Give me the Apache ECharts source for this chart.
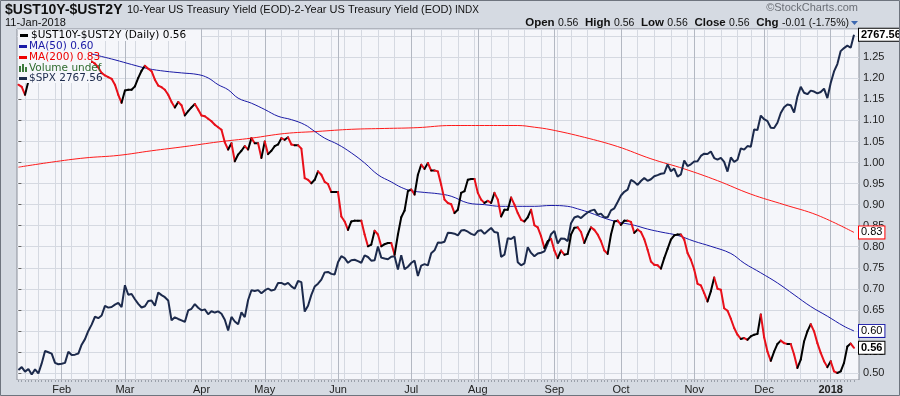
<!DOCTYPE html>
<html><head><meta charset="utf-8">
<script src="https://cdn.jsdelivr.net/npm/echarts@6/dist/echarts.min.js"></script>
<style>html,body{margin:0;padding:0;background:#d5dae2;}#chart{width:900px;height:396px;}</style>
</head><body><div id="chart"></div>
<script>
// ---- calendar (NYSE trading days shown on the chart) ----
const holidays = ['2017-01-16','2017-02-20','2017-04-14','2017-05-29','2017-07-04','2017-09-04','2017-11-23','2017-12-25','2018-01-01'];
const firstDay = '2017-01-12', lastDay = '2018-01-11';
function tradingDays(start, end){
  const out=[]; let t=Date.parse(start+'T00:00:00Z'); const e=Date.parse(end+'T00:00:00Z');
  while(t<=e){const d=new Date(t);const wd=d.getUTCDay();const s=d.toISOString().slice(0,10);
    if(wd!==0&&wd!==6&&holidays.indexOf(s)<0) out.push(s); t+=86400000;}
  return out;
}
const dates = tradingDays(firstDay, lastDay);

// ---- $UST10Y-$UST2Y daily close ----
const spread = [
 1.185,1.180,1.161,1.193,1.21,1.22,1.23,1.21,1.23,1.24,
 1.25,1.23,1.22,1.24,1.22,1.25,1.24,1.23,1.24,1.25,
 1.24,1.23,1.240,1.235,1.226,1.213,1.207,1.203,1.199,1.185,
 1.161,1.142,1.171,1.173,1.173,1.181,1.201,1.218,1.230,1.223,
 1.217,1.197,1.183,1.179,1.173,1.161,1.144,1.131,1.144,1.136,
 1.112,1.122,1.131,1.139,1.126,1.112,1.110,1.104,1.098,1.090,
 1.084,1.078,1.048,1.031,1.046,1.003,1.019,1.028,1.039,1.031,
 1.058,1.046,1.046,1.011,1.050,1.020,1.028,1.039,1.043,1.058,
 1.054,1.060,1.043,1.041,1.041,1.033,0.963,0.959,0.951,0.959,
 0.979,0.971,0.954,0.949,0.930,0.930,0.930,0.872,0.860,0.840,
 0.860,0.862,0.862,0.862,0.829,0.801,0.805,0.838,0.829,0.801,
 0.806,0.809,0.809,0.781,0.829,0.870,0.886,0.932,0.936,0.924,
 0.971,0.995,0.985,0.999,0.981,0.981,0.979,0.947,0.912,0.904,
 0.901,0.880,0.888,0.928,0.932,0.959,0.961,0.961,0.928,0.912,
 0.904,0.909,0.904,0.928,0.912,0.872,0.888,0.888,0.917,0.900,
 0.880,0.864,0.860,0.870,0.888,0.851,0.846,0.825,0.797,0.813,
 0.819,0.791,0.773,0.791,0.781,0.783,0.829,0.845,0.846,0.835,
 0.809,0.829,0.846,0.840,0.829,0.813,0.791,0.783,0.829,0.860,
 0.862,0.852,0.862,0.862,0.859,0.833,0.841,0.835,0.818,0.793,
 0.765,0.757,0.756,0.748,0.773,0.795,0.817,0.827,0.829,0.829,
 0.817,0.785,0.769,0.746,0.712,0.708,0.690,0.670,0.694,0.727,
 0.700,0.698,0.654,0.648,0.629,0.607,0.591,0.581,0.583,0.579,
 0.587,0.591,0.593,0.639,0.585,0.551,0.529,0.551,0.569,0.577,
 0.571,0.569,0.569,0.544,0.512,0.532,0.575,0.599,0.616,0.599,
 0.571,0.548,0.528,0.514,0.528,0.504,0.500,0.504,0.524,0.563,
 0.570,0.560];

// ---- $SPX overlay ----
const spx = [
 2270.4,2274.6,2267.9,2271.9,2263.7,2271.3,2265.2,2280.1,2298.4,2296.7,
 2294.7,2280.9,2278.9,2279.6,2280.9,2297.4,2292.6,2293.1,2294.7,2307.9,
 2316.1,2328.3,2337.6,2349.3,2347.2,2351.2,2365.4,2362.8,2363.8,2367.3,
 2369.8,2363.6,2396.0,2381.9,2383.1,2375.3,2368.4,2363.0,2364.9,2372.6,
 2373.5,2365.5,2385.3,2381.4,2378.3,2373.5,2344.0,2348.5,2346.0,2344.0,
 2341.6,2358.6,2361.1,2368.1,2362.7,2358.8,2360.2,2353.0,2357.5,2355.5,
 2357.2,2353.8,2344.9,2329.0,2349.0,2342.2,2338.2,2355.8,2348.7,2374.2,
 2388.6,2387.5,2388.8,2384.2,2388.3,2391.2,2388.1,2389.5,2399.3,2399.4,
 2396.9,2399.6,2394.4,2390.9,2402.3,2400.7,2357.0,2365.7,2381.7,2394.0,
 2398.4,2404.4,2415.1,2415.8,2412.9,2411.8,2430.1,2439.1,2436.1,2429.3,
 2433.1,2433.8,2431.8,2429.4,2440.4,2437.9,2432.5,2433.2,2453.5,2437.0,
 2435.6,2434.5,2438.3,2439.1,2419.4,2440.7,2419.7,2423.4,2429.0,2432.5,
 2409.8,2425.2,2427.4,2425.5,2443.3,2447.8,2459.3,2459.1,2460.6,2473.8,
 2473.5,2472.5,2469.9,2477.1,2477.8,2475.4,2472.1,2470.3,2476.4,2477.6,
 2472.2,2476.8,2480.9,2474.9,2474.0,2438.2,2441.3,2465.8,2464.6,2468.1,
 2430.0,2425.6,2428.4,2452.5,2444.0,2439.0,2443.1,2444.2,2446.3,2457.6,
 2471.7,2476.6,2457.9,2465.5,2465.1,2461.4,2488.1,2496.5,2498.4,2495.6,
 2500.2,2503.9,2506.7,2508.2,2500.6,2502.2,2496.7,2496.8,2507.0,2510.1,
 2519.4,2529.1,2534.6,2537.7,2552.1,2549.3,2544.7,2550.6,2555.2,2550.9,
 2553.2,2557.6,2559.4,2561.3,2562.1,2575.2,2565.0,2569.1,2557.2,2560.4,
 2581.1,2572.8,2575.3,2579.4,2579.9,2587.8,2591.1,2590.6,2594.4,2584.6,
 2582.3,2584.8,2578.9,2564.6,2585.6,2578.9,2582.1,2599.0,2597.1,2602.4,
 2601.4,2627.0,2626.1,2647.6,2642.2,2639.4,2629.6,2629.3,2637.0,2651.5,
 2660.0,2664.1,2662.9,2652.0,2675.8,2690.2,2681.5,2679.3,2684.6,2683.3,
 2680.5,2682.6,2687.5,2673.6,2695.8,2713.1,2724.0,2743.2,2747.7,2751.3,
 2748.2,2767.56];

// ---- moving averages, read at sample dates ----
const ma50Dates = ['2017-01-12','2017-01-25','2017-02-01','2017-02-08','2017-02-14','2017-02-17','2017-02-24','2017-03-03','2017-03-10','2017-03-17','2017-03-24','2017-03-31','2017-04-05','2017-04-10','2017-04-13','2017-04-19','2017-04-25','2017-05-01','2017-05-05','2017-05-11','2017-05-17','2017-05-22','2017-05-25','2017-06-01','2017-06-07','2017-06-13','2017-06-19','2017-06-23','2017-06-28','2017-07-03','2017-07-10','2017-07-14','2017-07-20','2017-07-27','2017-08-03','2017-08-10','2017-08-17','2017-08-24','2017-08-31','2017-09-08','2017-09-13','2017-09-19','2017-09-25','2017-09-29','2017-10-06','2017-10-12','2017-10-18','2017-10-25','2017-11-01','2017-11-08','2017-11-16','2017-11-22','2017-11-30','2017-12-07','2017-12-14','2017-12-21','2017-12-29','2018-01-08','2018-01-11'];
const ma50Values = [1.270,1.270,1.268,1.264,1.258,1.252,1.244,1.233,1.223,1.217,1.213,1.209,1.201,1.185,1.173,1.153,1.141,1.126,1.110,1.102,1.090,1.074,1.058,1.043,1.023,0.999,0.971,0.954,0.941,0.933,0.929,0.926,0.920,0.904,0.900,0.896,0.896,0.896,0.898,0.896,0.890,0.880,0.868,0.859,0.851,0.842,0.835,0.827,0.813,0.801,0.784,0.761,0.738,0.714,0.686,0.658,0.635,0.611,0.600];
const ma200Dates = ['2017-01-12','2017-01-27','2017-02-10','2017-02-27','2017-03-13','2017-03-27','2017-04-10','2017-04-25','2017-05-09','2017-05-23','2017-06-07','2017-06-21','2017-07-06','2017-07-20','2017-08-03','2017-08-17','2017-08-24','2017-08-31','2017-09-15','2017-09-29','2017-10-13','2017-10-27','2017-11-10','2017-11-27','2017-12-11','2017-12-26','2018-01-11'];
const ma200Values = [0.989,1.001,1.011,1.017,1.028,1.038,1.049,1.058,1.069,1.074,1.079,1.081,1.083,1.088,1.088,1.088,1.084,1.078,1.060,1.038,1.009,0.985,0.957,0.925,0.900,0.875,0.834];

// ---- tick labels ----
const monthLabels = ['Feb','Mar','Apr','May','Jun','Jul','Aug','Sep','Oct','Nov','Dec','2018'];
const lastSpread = '0.56', lastMA50 = '0.60', lastMA200 = '0.83', lastSPX = '2767.56';

// ---- derived structures ----
const monthStarts = [], weekStarts = [], allDays = [];
dates.forEach((d,i)=>{
  allDays.push(i);
  if(i>0){
    if(d.slice(5,7)!==dates[i-1].slice(5,7)) monthStarts.push(i);
    const w=new Date(d+'T00:00:00Z').getUTCDay(), pw=new Date(dates[i-1]+'T00:00:00Z').getUTCDay();
    if(w<pw) weekStarts.push(i);
  }
});
const segs = [];
for(let i=1;i<spread.length;i++) segs.push([i-1, spread[i-1], i, spread[i]]);
const spreadPts = spread.map((v,i)=>[i,v]);
const spxPts = spx.map((v,i)=>[i,v]);
const ma50Pts = ma50Dates.map((d,k)=>[dates.indexOf(d), ma50Values[k]]);
const ma200Pts = ma200Dates.map((d,k)=>[dates.indexOf(d), ma200Values[k]]);

const FONT='Liberation Sans, Arial, sans-serif';
const LFONT='DejaVu Sans, Verdana, sans-serif';
const PLOTBG='#f5f6fa';
const xMin=-0.42, xMax=252.5;

function tag(text,border,bold){
  return {show:true, formatter:text, color:'#000', fontFamily:FONT, fontSize:11, fontWeight:bold?'bold':'normal',
    backgroundColor:'#fff', borderColor:border, borderWidth:1, padding:[1,2,0,2], distance:5, valueAnimation:false};
}
function L(el){ el.z = 100; return el; }

const chart = echarts.init(document.getElementById('chart'), null, {renderer:'canvas'});
const baseX = {type:'value', min:xMin, max:xMax, gridIndex:0, position:'bottom', axisLine:{show:false}};
chart.setOption({
  animation:false,
  backgroundColor:'#d5dae2',
  grid:{left:17, top:29, width:842, height:351, show:true, backgroundColor:PLOTBG, borderColor:'#8a8f99', borderWidth:1, containLabel:false},
  xAxis:[
    Object.assign({}, baseX, {axisTick:{show:false, customValues:weekStarts}, axisLabel:{show:false}, splitLine:{show:true, lineStyle:{color:'#d5d9e1', width:1}}}),
    Object.assign({}, baseX, {axisTick:{show:false, customValues:monthStarts},
      axisLabel:{show:true, customValues:monthStarts, margin:4, color:'#222', fontFamily:FONT, fontSize:11,
        formatter:(v)=>{const k=monthStarts.indexOf(v); const t=monthLabels[k]; return /^\d{4}$/.test(t)?'{y|'+t+'}':t;},
        rich:{y:{fontWeight:'bold', fontFamily:FONT, fontSize:11, color:'#222'}}},
      splitLine:{show:true, lineStyle:{color:'#b3b8c2', width:1}}}),
    Object.assign({}, baseX, {axisTick:{show:true, customValues:allDays, length:2, lineStyle:{color:'#9aa0aa'}}, axisLabel:{show:false}, splitLine:{show:false}})
  ],
  yAxis:[
    {type:'value', position:'right', min:0.4834, max:1.3173, splitNumber:17,
      axisLine:{show:false}, axisTick:{show:true, length:3, lineStyle:{color:'#666'}},
      axisLabel:{margin:4, color:'#222', fontFamily:FONT, fontSize:11, showMinLabel:false, showMaxLabel:false, padding:[0,0,3,0],
        formatter:(v)=>{const r=Math.round(v*20)/20; return Math.abs(r-v)<1e-6? r.toFixed(2):'';}},
      splitLine:{show:true, lineStyle:{color:'#d5d9e1', width:1}}},
    {type:'value', min:2255.5, max:2776.0, show:false}
  ],
  series:[
    {name:'MA(200)', type:'line', data:ma200Pts, xAxisIndex:0, yAxisIndex:0, smooth:0.4, showSymbol:false,
      lineStyle:{color:'#ff1a1a', width:1}, z:3, endLabel:tag(lastMA200,'#ff0000',false)},
    {name:'MA(50)', type:'line', data:ma50Pts, xAxisIndex:0, yAxisIndex:0, smooth:0.4, showSymbol:false,
      lineStyle:{color:'#1a1aa6', width:1}, z:3, endLabel:tag(lastMA50,'#1a1aa6',false)},
    {name:'$SPX', type:'line', data:spxPts, xAxisIndex:0, yAxisIndex:1, showSymbol:false,
      lineStyle:{color:'#1c2a4c', width:2}, z:4, endLabel:tag(lastSPX,'#000',true)},
    {name:'$UST10Y-$UST2Y', type:'custom', data:segs, xAxisIndex:0, yAxisIndex:0, z:5,
      encode:{x:[0,2], y:[1,3]},
      renderItem:(params, api)=>{
        const p0=api.coord([api.value(0), api.value(1)]);
        const p1=api.coord([api.value(2), api.value(3)]);
        const down=api.value(3)<api.value(1);
        return {type:'line', shape:{x1:p0[0],y1:p0[1],x2:p1[0],y2:p1[1]},
          style:{stroke:down?'#e8101a':'#000', lineWidth:2, lineCap:'round'}};
      }},
    {name:'spreadTag', type:'line', data:spreadPts, xAxisIndex:0, yAxisIndex:0, showSymbol:false, silent:true,
      lineStyle:{opacity:0, width:0}, z:6, endLabel:tag(lastSpread,'#000',true)}
  ],
  graphic:[
    // header
    {type:'text', x:5, y:10, style:{text:'$UST10Y-$UST2Y', font:'bold 14px '+FONT, fill:'#111', textVerticalAlign:'middle', verticalAlign:'middle'}},
    {type:'text', x:127, y:10, style:{text:'10-Year US Treasury Yield (EOD)-2-Year US Treasury Yield (EOD)', font:'11px '+FONT, fill:'#111', textVerticalAlign:'middle', verticalAlign:'middle'}},
    {type:'text', x:455, y:10, style:{text:'INDX', font:'10px '+FONT, fill:'#111', textVerticalAlign:'middle', verticalAlign:'middle'}},
    {type:'text', x:5, y:23, style:{text:'11-Jan-2018', font:'11px '+FONT, fill:'#111', textVerticalAlign:'middle', verticalAlign:'middle'}},
    {type:'text', x:858, y:8, style:{text:'\u00a9StockCharts.com', font:'11px '+FONT, fill:'#6b6f76', textAlign:'right', align:'right', textVerticalAlign:'middle', verticalAlign:'middle'}},
    {type:'text', x:849, y:23, style:{text:'{b|Open} {v|0.56}  {b|High} {v|0.56}  {b|Low} {v|0.56}  {b|Close} {v|0.56}  {b|Chg} {v|-0.01 (-1.75%)}',
      textAlign:'right', align:'right', textVerticalAlign:'middle', verticalAlign:'middle',
      rich:{b:{font:'bold 11.5px '+FONT, fill:'#111'}, v:{font:'10.5px '+FONT, fill:'#111'}}}},
    {type:'polygon', shape:{points:[[851,21],[858,21],[854.5,25]]}, style:{fill:'#3d68b0'}},
    // legend box (drawn above the series)
    L({type:'rect', shape:{x:18, y:30, width:183, height:11}, style:{fill:PLOTBG}}),
    L({type:'rect', shape:{x:18, y:41, width:68, height:11}, style:{fill:PLOTBG}}),
    L({type:'rect', shape:{x:18, y:52, width:73, height:11}, style:{fill:PLOTBG}}),
    L({type:'rect', shape:{x:18, y:63, width:75, height:10}, style:{fill:PLOTBG}}),
    L({type:'rect', shape:{x:18, y:73, width:73, height:10}, style:{fill:PLOTBG}}),
    L({type:'rect', shape:{x:20, y:34, width:8, height:3}, style:{fill:'#000'}}),
    L({type:'text', x:31, y:35.5, style:{text:'$UST10Y-$UST2Y (Daily) 0.56', font:'10.5px '+LFONT, fill:'#000', textVerticalAlign:'middle', verticalAlign:'middle'}}),
    L({type:'rect', shape:{x:19, y:45, width:8, height:3}, style:{fill:'#1a1aa6'}}),
    L({type:'text', x:29, y:46.5, style:{text:'MA(50) 0.60', font:'10.5px '+LFONT, fill:'#1a1aa6', textVerticalAlign:'middle', verticalAlign:'middle'}}),
    L({type:'rect', shape:{x:19, y:56, width:8, height:3}, style:{fill:'#ee0000'}}),
    L({type:'text', x:29, y:57.5, style:{text:'MA(200) 0.83', font:'10.5px '+LFONT, fill:'#ee0000', textVerticalAlign:'middle', verticalAlign:'middle'}}),
    L({type:'rect', shape:{x:19, y:66, width:2, height:6}, style:{fill:'#3c7a3c'}}),
    L({type:'rect', shape:{x:22, y:64, width:2, height:8}, style:{fill:'#3c7a3c'}}),
    L({type:'rect', shape:{x:25, y:67, width:2, height:5}, style:{fill:'#3c7a3c'}}),
    L({type:'text', x:29, y:68, style:{text:'Volume undef', font:'10.5px '+LFONT, fill:'#2e6b2e', textVerticalAlign:'middle', verticalAlign:'middle'}}),
    L({type:'rect', shape:{x:19, y:77, width:8, height:3}, style:{fill:'#1c2a4c'}}),
    L({type:'text', x:29, y:78.5, style:{text:'$SPX 2767.56', font:'10.5px '+LFONT, fill:'#1c2a4c', textVerticalAlign:'middle', verticalAlign:'middle'}}),
    // outer frame
    {type:'rect', z:200, shape:{x:0.5, y:0.5, width:899, height:395}, style:{fill:'none', stroke:'#6e747e', lineWidth:1}}
  ]
});
</script></body></html>
